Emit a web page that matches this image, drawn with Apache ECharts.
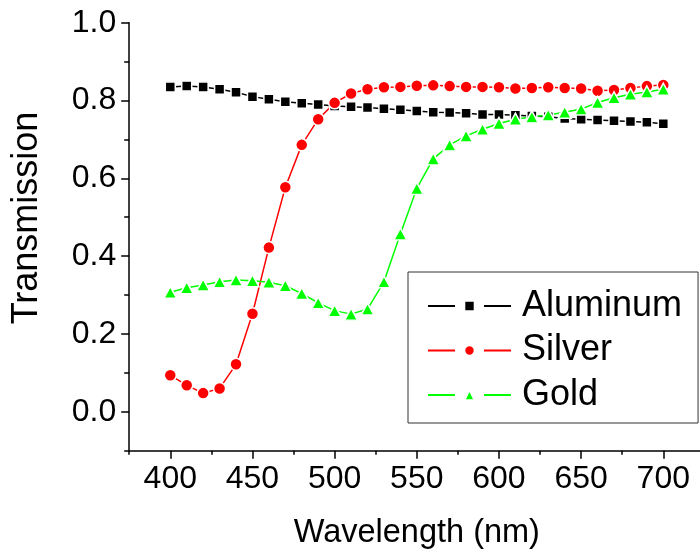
<!DOCTYPE html>
<html>
<head>
<meta charset="utf-8">
<script src="https://cdn.jsdelivr.net/npm/echarts@6/dist/echarts.min.js"></script>
<style>
  html, body { margin: 0; padding: 0; background: #fff; }
  #chart { width: 700px; height: 552px; }
</style>
</head>
<body>
<div id="chart"></div>
<script>
// Transmission spectra of thin metal films, sampled every 10 nm
const wavelengths = [400, 410, 420, 430, 440, 450, 460, 470, 480, 490, 500,
  510, 520, 530, 540, 550, 560, 570, 580, 590, 600,
  610, 620, 630, 640, 650, 660, 670, 680, 690, 700];

const aluminum = [0.835, 0.837, 0.835, 0.829, 0.821, 0.810, 0.803, 0.797, 0.793, 0.790, 0.786,
  0.784, 0.782, 0.779, 0.776, 0.773, 0.770, 0.769, 0.767, 0.764, 0.764,
  0.762, 0.760, 0.758, 0.754, 0.752, 0.750, 0.748, 0.746, 0.744, 0.740];

const silver = [0.094, 0.068, 0.048, 0.060, 0.122, 0.252, 0.422, 0.577, 0.686, 0.752, 0.794,
  0.818, 0.829, 0.834, 0.835, 0.838, 0.839, 0.837, 0.835, 0.835, 0.834,
  0.831, 0.832, 0.834, 0.832, 0.831, 0.825, 0.827, 0.832, 0.837, 0.840];

const gold = [0.307, 0.319, 0.326, 0.334, 0.339, 0.337, 0.333, 0.324, 0.304, 0.280, 0.260,
  0.251, 0.264, 0.334, 0.457, 0.574, 0.650, 0.686, 0.709, 0.726, 0.741,
  0.752, 0.758, 0.763, 0.770, 0.778, 0.795, 0.807, 0.816, 0.822, 0.829];

const xTickLabels = [400, 450, 500, 550, 600, 650, 700];
const yTickLabels = [0, 0.2, 0.4, 0.6, 0.8, 1.0];

const FONT = '"Liberation Sans", Arial, Helvetica, sans-serif';
const axisColor = '#000';

function pairs(values) {
  return wavelengths.map((w, i) => [w, values[i]]);
}

function seriesOf(name, values, color, symbol, size) {
  return {
    name: name,
    type: 'line',
    data: pairs(values),
    symbol: symbol,
    symbolSize: size,
    showSymbol: true,
    lineStyle: { color: color, width: 1.5 },
    itemStyle: { color: color, borderColor: '#fff', borderWidth: 1.5 },
    emphasis: { disabled: true },
    animation: false
  };
}

const chart = echarts.init(document.getElementById('chart'), null, { renderer: 'canvas' });

chart.setOption({
  backgroundColor: '#fff',
  animation: false,
  grid: {
    left: 129.2, top: 22.7, right: -4.4, bottom: 101.3,
    containLabel: false,
    outerBoundsMode: 'none'
  },
  xAxis: [
    {
      type: 'value', min: 375, max: 725, interval: 25,
      axisLine: { onZero: false, lineStyle: { color: axisColor, width: 1.5 } },
      axisTick: { length: 4, lineStyle: { color: axisColor, width: 1.5 } },
      axisLabel: {
        customValues: xTickLabels, margin: 12,
        fontSize: 32, color: '#000', fontFamily: FONT
      },
      splitLine: { show: false },
      name: 'Wavelength (nm)', nameLocation: 'middle', nameGap: 66,
      nameTextStyle: { fontSize: 32.5, color: '#000', fontFamily: FONT }
    },
    {
      type: 'value', min: 375, max: 725, position: 'bottom',
      axisLine: { show: false, onZero: false },
      axisTick: { customValues: xTickLabels, length: 8, lineStyle: { color: axisColor, width: 1.5 } },
      axisLabel: { show: false },
      splitLine: { show: false }
    }
  ],
  yAxis: [
    {
      type: 'value', min: -0.1, max: 1.0, interval: 0.1,
      axisLine: { onZero: false, lineStyle: { color: axisColor, width: 1.5 } },
      axisTick: { length: 5, lineStyle: { color: axisColor, width: 1.5 } },
      axisLabel: {
        customValues: yTickLabels, margin: 13,
        formatter: v => v.toFixed(1),
        fontSize: 32, color: '#000', fontFamily: FONT
      },
      splitLine: { show: false }
    },
    {
      type: 'value', min: -0.1, max: 1.0, position: 'left',
      axisLine: { show: false, onZero: false },
      axisTick: { customValues: yTickLabels, length: 8, lineStyle: { color: axisColor, width: 1.5 } },
      axisLabel: { show: false },
      splitLine: { show: false }
    }
  ],
  legend: {
    orient: 'vertical',
    left: 408, top: 272,
    padding: [16, 16, 10, 19],
    itemWidth: 83, itemHeight: 13, itemGap: 8.5,
    borderColor: '#333', borderWidth: 1,
    backgroundColor: '#fff',
    lineStyle: { type: [27, 29] },
    textStyle: { fontSize: 36, color: '#000', fontFamily: FONT, padding: [0, 0, 0, 6] },
    data: ['Aluminum', 'Silver', 'Gold']
  },
  graphic: [
    {
      type: 'text', x: 27, y: 218, rotation: Math.PI / 2,
      style: {
        text: 'Transmission', fontSize: 36, fontFamily: FONT, fill: '#000',
        align: 'center', verticalAlign: 'middle'
      }
    }
  ],
  series: [
    seriesOf('Aluminum', aluminum, '#000000', 'rect', 10),
    seriesOf('Silver', silver, '#ff0000', 'circle', 12),
    seriesOf('Gold', gold, '#00ff00', 'triangle', [13, 12])
  ]
});
</script>
</body>
</html>
